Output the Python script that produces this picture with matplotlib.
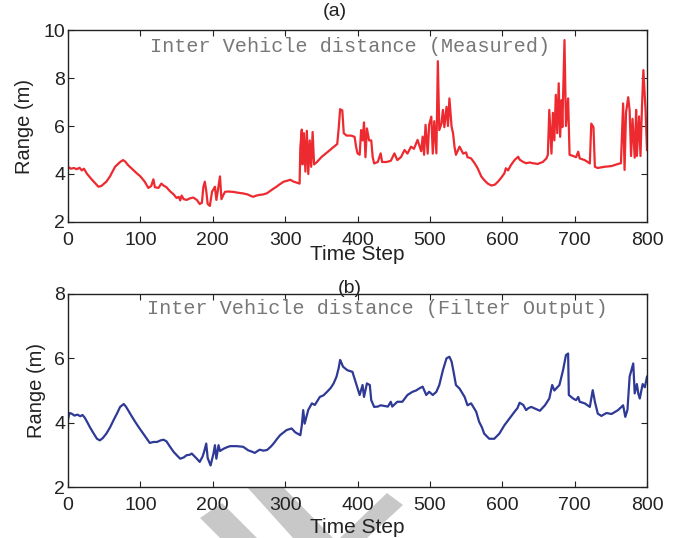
import matplotlib
matplotlib.use("Agg")
import matplotlib.pyplot as plt
from matplotlib.patches import Polygon

plt.rcParams['font.family'] = ['Liberation Sans', 'DejaVu Sans']

# measured range
t_meas = [0, 4, 8, 12, 16, 19, 22, 26, 32, 38, 42, 46, 53, 58, 65, 72, 76, 79, 83, 89,
          95, 100, 106, 111, 115, 118, 120, 125, 129, 132, 136, 141, 146, 150, 153, 155, 157, 160, 164, 168,
          173, 178, 182, 185, 187, 189, 191, 193, 196, 199, 203, 205, 207, 210, 212, 215, 217, 222, 229, 235,
          242, 248, 253, 256, 260, 265, 270, 275, 282, 288, 293, 298, 303, 307, 312, 318, 320, 321, 323, 324,
          326, 328, 330, 332, 334, 336, 338, 340, 344, 350, 356, 362, 368, 372, 374, 376, 379, 381, 385, 391,
          396, 398, 400, 403, 405, 407, 409, 411, 413, 416, 419, 421, 423, 428, 432, 434, 440, 446, 451, 455,
          460, 465, 469, 474, 478, 483, 488, 490, 492, 494, 497, 499, 502, 504, 506, 509, 511, 513, 516, 518,
          520, 523, 525, 527, 530, 532, 534, 536, 541, 546, 550, 552, 557, 562, 566, 571, 575, 580, 585, 590,
          594, 598, 603, 605, 608, 612, 617, 622, 624, 629, 633, 638, 642, 649, 656, 661, 663, 665, 668, 670,
          672, 674, 676, 678, 680, 682, 683, 686, 688, 691, 693, 698, 702, 705, 707, 714, 721, 723, 726, 728,
          732, 741, 751, 760, 764, 767, 769, 771, 774, 776, 778, 780, 783, 785, 786, 789, 791, 793, 795, 798,
          800]
range_meas = [4.3, 4.22, 4.25, 4.2, 4.26, 4.15, 4.22, 4.02, 3.8, 3.6, 3.47, 3.5, 3.68, 3.9, 4.3, 4.5, 4.58, 4.52, 4.37, 4.2,
              4.03, 3.9, 3.68, 3.42, 3.5, 3.78, 3.45, 3.42, 3.6, 3.52, 3.45, 3.28, 3.15, 3.0, 3.05, 2.9, 3.1, 2.95, 2.92, 2.98,
              3.02, 2.92, 2.75, 2.8, 3.45, 3.68, 3.3, 2.75, 2.67, 3.26, 3.47, 2.92, 3.3, 3.9, 2.95, 3.15, 3.26, 3.27, 3.25, 3.22,
              3.19, 3.15, 3.08, 3.05, 3.1, 3.13, 3.15, 3.2, 3.35, 3.47, 3.58, 3.68, 3.72, 3.76, 3.68, 3.62, 3.6, 5.1, 5.85, 4.4,
              5.7, 4.1, 5.8, 4.0, 5.4, 4.3, 5.75, 4.4, 4.5, 4.7, 4.85, 5.0, 5.15, 5.25, 5.9, 6.7, 6.65, 5.7, 5.6, 5.6,
              5.55, 5.14, 4.86, 4.8, 5.83, 5.4, 6.15, 4.7, 5.9, 5.4, 5.4, 4.7, 4.44, 4.5, 4.86, 4.5, 4.5, 4.55, 4.86, 4.58,
              4.7, 5.0, 4.85, 5.14, 5.05, 5.42, 4.95, 5.56, 4.8, 6.05, 4.85, 6.05, 6.39, 4.85, 6.2, 4.86, 8.7, 5.83, 6.1, 6.67,
              5.95, 6.8, 6.0, 7.15, 5.97, 5.7, 5.14, 4.8, 5.14, 4.85, 4.9, 4.7, 4.65, 4.44, 4.24, 3.9, 3.75, 3.6, 3.52, 3.56,
              3.68, 3.82, 4.03, 4.24, 4.15, 4.37, 4.58, 4.72, 4.6, 4.5, 4.45, 4.48, 4.45, 4.42, 4.5, 4.65, 4.8, 6.67, 4.85, 6.55,
              5.4, 7.3, 5.7, 7.78, 5.55, 7.08, 5.95, 9.58, 6.0, 7.15, 4.8, 4.75, 4.7, 4.93, 4.65, 4.58, 4.44, 6.1, 5.95, 4.3,
              4.25, 4.3, 4.33, 4.42, 4.45, 6.94, 4.17, 6.55, 7.2, 6.65, 4.75, 6.3, 4.68, 6.67, 4.75, 6.4, 4.75, 6.74, 8.33, 6.65,
              5.0]

# filter output
t_filt = [0, 2, 5, 9, 13, 17, 20, 23, 27, 30, 35, 40, 44, 48, 53, 58, 63, 68, 72, 77,
          80, 83, 88, 93, 98, 104, 109, 113, 118, 123, 128, 132, 136, 141, 146, 151, 155, 160, 164, 168,
          171, 175, 178, 182, 186, 188, 191, 193, 197, 201, 203, 205, 208, 210, 215, 220, 224, 233, 242, 249,
          254, 258, 262, 265, 270, 275, 280, 284, 289, 293, 298, 302, 309, 314, 321, 323, 325, 327, 332, 337,
          341, 348, 353, 358, 363, 367, 371, 374, 376, 378, 380, 386, 393, 398, 403, 407, 409, 413, 417, 419,
          423, 428, 432, 437, 442, 446, 448, 455, 462, 469, 476, 481, 485, 490, 495, 499, 504, 509, 513, 518,
          523, 527, 530, 533, 536, 541, 548, 552, 557, 564, 568, 572, 575, 582, 589, 596, 603, 610, 617, 621,
          624, 629, 633, 636, 640, 647, 652, 659, 665, 669, 672, 676, 679, 684, 688, 691, 692, 698, 702, 705,
          707, 714, 721, 725, 728, 732, 737, 744, 751, 760, 767, 770, 773, 776, 781, 783, 786, 788, 790, 794,
          797, 800]
range_filt = [4.1, 4.3, 4.28, 4.22, 4.25, 4.2, 4.24, 4.16, 4.0, 3.87, 3.68, 3.5, 3.45, 3.52, 3.66, 3.85, 4.08, 4.3, 4.49, 4.58,
              4.5, 4.39, 4.2, 4.02, 3.85, 3.66, 3.5, 3.37, 3.4, 3.4, 3.45, 3.47, 3.42, 3.25, 3.09, 2.97, 2.88, 2.92, 2.99, 3.0,
              3.04, 2.95, 2.88, 2.78, 2.95, 3.09, 3.35, 2.9, 2.67, 3.04, 3.3, 2.88, 3.3, 3.12, 3.19, 3.24, 3.27, 3.27, 3.25, 3.14,
              3.1, 3.06, 3.12, 3.16, 3.13, 3.15, 3.25, 3.35, 3.5, 3.61, 3.7, 3.77, 3.82, 3.7, 3.61, 3.9, 4.39, 3.97, 4.4, 4.6,
              4.55, 4.8, 4.85, 4.96, 5.08, 5.22, 5.43, 5.7, 5.95, 5.85, 5.74, 5.63, 5.58, 5.22, 4.86, 5.17, 4.8, 5.22, 5.17, 4.7,
              4.49, 4.5, 4.54, 4.52, 4.5, 4.65, 4.5, 4.65, 4.65, 4.86, 4.96, 5.0, 5.06, 5.12, 4.86, 4.96, 4.86, 4.96, 5.17, 5.63,
              6.0, 6.05, 5.9, 5.55, 5.17, 5.06, 4.8, 4.54, 4.6, 4.34, 4.03, 3.85, 3.66, 3.5, 3.5, 3.66, 3.92, 4.13, 4.34, 4.45,
              4.62, 4.55, 4.39, 4.45, 4.49, 4.42, 4.37, 4.54, 4.75, 5.17, 5.0, 5.1, 5.17, 5.63, 6.1, 6.15, 4.86, 4.75, 4.7, 4.8,
              4.65, 4.6, 4.49, 5.01, 4.65, 4.28, 4.21, 4.3, 4.27, 4.39, 4.54, 4.18, 4.4, 5.43, 5.84, 4.91, 5.2, 4.9, 4.75, 5.2,
              5.1, 5.43]

W, H = 682, 538
fig = plt.figure(figsize=(W / 100, H / 100), dpi=100)


def px_box(x0, y0, x1, y1):
    return [x0 / W, 1 - y1 / H, (x1 - x0) / W, (y1 - y0) / H]


def style_axes(ax, ylim, yticks):
    ax.set_xlim(0, 800)
    ax.set_ylim(*ylim)
    ax.set_xticks(range(0, 801, 100))
    ax.set_yticks(yticks)
    ax.tick_params(direction='in', top=True, right=True, length=4, width=0.8,
                   labelsize=14, colors='#222222')
    ax.tick_params(axis='x', pad=7)
    ax.tick_params(axis='y', pad=2)
    for sp in ax.spines.values():
        sp.set_linewidth(1.0)
        sp.set_color('#222222')


ax1 = fig.add_axes(px_box(68, 30, 647, 222))
ax1.plot(t_meas, range_meas, color='#ED2A2F', lw=1.6)
style_axes(ax1, (2, 10), [2, 4, 6, 8, 10])
ax1.set_ylabel('Range (m)', fontsize=14.5, color='#222222')
ax1.yaxis.set_label_coords(-0.058, 0.5)
ax1.set_xlabel('Time Step', fontsize=15, color='#222222', va='baseline')
ax1.xaxis.set_label_coords(0.5, -0.198)
ax1.text(0.461, 1.073, '(a)', transform=ax1.transAxes, ha='center', va='baseline',
         fontsize=14, color='#222222')
ax1.text(0.142, 0.915, 'Inter Vehicle distance (Measured)', transform=ax1.transAxes,
         ha='left', va='center', fontsize=14.5, color='#777777', family='Liberation Mono')

ax2 = fig.add_axes(px_box(68, 294, 647, 487))
ax2.plot(t_filt, range_filt, color='#2E3A96', lw=1.6)
style_axes(ax2, (2, 8), [2, 4, 6, 8])
ax2.set_ylabel('Range (m)', fontsize=14.5, color='#222222')
ax2.yaxis.set_label_coords(-0.038, 0.5)
ax2.set_xlabel('Time Step', fontsize=15, color='#222222', va='baseline')
ax2.xaxis.set_label_coords(0.5, -0.239)
ax2.text(0.486, 1.005, '(b)', transform=ax2.transAxes, ha='center', va='baseline',
         fontsize=14, color='#222222')
ax2.text(0.137, 0.927, 'Inter Vehicle distance (Filter Output)', transform=ax2.transAxes,
         ha='left', va='center', fontsize=14.5, color='#777777', family='Liberation Mono')

# grey stripes of the watermark along the bottom edge
stripes = [
    [(200, 518), (222, 503), (257, 538), (220, 538)],
    [(247, 487), (283, 487), (333, 538), (293, 538)],
    [(387, 493), (403, 505), (367, 538), (340, 538)],
]
for pts in stripes:
    fig.add_artist(Polygon([(x / W, 1 - y / H) for x, y in pts], closed=True,
                           transform=fig.transFigure, facecolor='#C8C8C8',
                           edgecolor='none', zorder=-1))

fig.savefig('out.png', dpi=100, facecolor='white')
